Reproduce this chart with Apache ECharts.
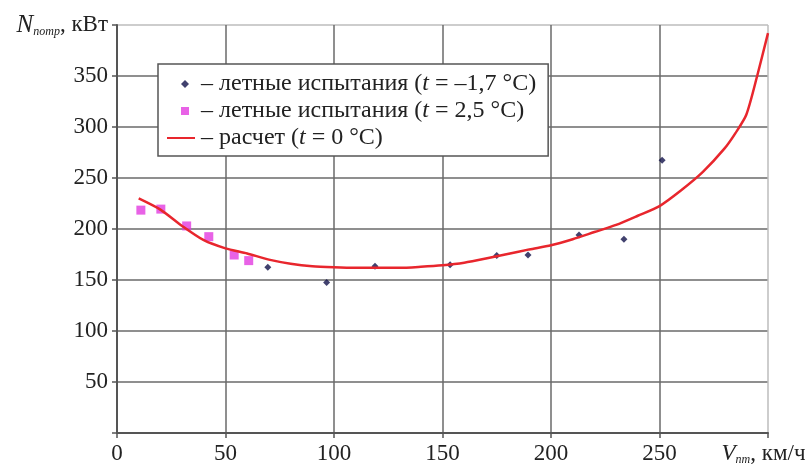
<!DOCTYPE html>
<html>
<head>
<meta charset="utf-8">
<script src="https://cdn.jsdelivr.net/npm/echarts@6/dist/echarts.min.js"></script>
<style>
  html, body { margin: 0; padding: 0; background: #fff; }
  #chart { width: 809px; height: 470px; }
</style>
</head>
<body>
<div id="chart"></div>
<script>
// летные испытания, t = -1.7 °C
const testColdX = [69.5, 96.6, 118.9, 153.5, 175, 189.4, 212.9, 233.6, 251.2]
const testColdY = [162.5, 147.5, 163.5, 165, 174, 174.5, 194, 190, 267.5]
// летные испытания, t = 2.5 °C
const testWarmX = [11, 20.2, 32.1, 42.3, 54, 60.7]
const testWarmY = [218.5, 219.5, 203, 192.5, 174.5, 169]
// расчет, t = 0 °C
const calcX = [10, 20, 30, 40, 50, 60, 70, 80, 90, 100, 110, 120, 130, 140, 150, 160, 170, 180, 190, 200,
  210, 220, 230, 240, 250, 260, 270, 280, 285, 290, 295, 300]
const calcY = [230, 219, 203, 189, 181, 176, 170, 166, 163.5, 162.5, 162, 162, 162, 163, 164.5, 167, 171, 175.5, 180, 184,
  190, 197, 204, 213, 222.5, 238, 256, 279, 294, 312, 350, 392]

const yTicks = [0, 50, 100, 150, 200, 250, 300, 350, 400]
const xTicks = [0, 50, 100, 150, 200, 250, 300]

const legendLabels = {
  t1: '– летные испытания ({i|t} = –1,7 °C)',
  t2: '– летные испытания ({i|t} = 2,5 °C)',
  calc: '– расчет ({i|t} = 0 °C)'
}

const FONT = '"Liberation Serif", "DejaVu Serif", serif'
const zip = (xs, ys) => xs.map((x, i) => [x, ys[i]])

const chart = echarts.init(document.getElementById('chart'))

// тёмные линии сетки, крайняя (верхняя / правая) светлее
const gridColors = (ticks) => ticks.map((_, i) => i === ticks.length - 1 ? '#bdbdbd' : '#6a6a6a')

// значки легенды: пустые M-точки задают рамку 30x10, чтобы маркер не растягивался
const ICON_DIAMOND = 'path://M0,0 M30,10 M19,1 L23,5 L19,9 L15,5 Z'
const ICON_SQUARE = 'path://M0,0 M30,10 M15,1 L23,1 L23,9 L15,9 Z'
const ICON_LINE = 'path://M0,0 M30,10 M1,4 L29,4 L29,6 L1,6 Z'

chart.setOption({
  backgroundColor: '#fff',
  animation: false,
  grid: { left: 117, right: 41, top: 25, bottom: 37, containLabel: false, outerBoundsMode: 'none' },
  legend: {
    left: 158,
    top: 64,
    orient: 'vertical',
    data: [
      { name: 't1', icon: ICON_DIAMOND },
      { name: 't2', icon: ICON_SQUARE },
      { name: 'calc', icon: ICON_LINE }
    ],
    padding: [8, 12, 6, 8],
    itemGap: 3,
    itemWidth: 30,
    itemHeight: 10,
    itemTextGap: 4,
    backgroundColor: '#fff',
    borderColor: '#555',
    borderWidth: 1.5,
    formatter: (name) => legendLabels[name],
    textStyle: {
      fontFamily: FONT,
      fontSize: 24,
      color: '#222',
      rich: { i: { fontFamily: FONT, fontSize: 24, fontStyle: 'italic', color: '#222' } }
    }
  },
  xAxis: {
    type: 'value',
    min: xTicks[0],
    max: xTicks[xTicks.length - 1],
    interval: 50,
    axisLine: { lineStyle: { color: '#555', width: 2 } },
    axisTick: { show: true, length: 5, lineStyle: { color: '#555', width: 1.5 } },
    axisLabel: {
      margin: 9,
      fontFamily: FONT,
      fontSize: 23,
      color: '#222',
      formatter: (v) => v === 300 ? '{n|V}{s|пт}{u|, км/ч}' : String(v),
      rich: {
        n: { fontFamily: FONT, fontSize: 23, fontStyle: 'italic', color: '#222' },
        s: { fontFamily: FONT, fontSize: 12, fontStyle: 'italic', color: '#222', verticalAlign: 'bottom', padding: [12, 0, 0, 0] },
        u: { fontFamily: FONT, fontSize: 23, color: '#222', padding: [0, 9, 0, 0] }
      }
    },
    splitLine: { show: true, lineStyle: { color: gridColors(xTicks), width: 1.5 } }
  },
  yAxis: {
    type: 'value',
    min: yTicks[0],
    max: yTicks[yTicks.length - 1],
    interval: 50,
    axisLine: { show: true, lineStyle: { color: '#555', width: 2 } },
    axisTick: { show: true, length: 5, lineStyle: { color: '#555', width: 1.5 } },
    axisLabel: {
      margin: 9,
      fontFamily: FONT,
      fontSize: 23,
      color: '#222',
      formatter: (v) => v === 0 ? '' : v === 400 ? '{n|N}{s|потр}, кВт' : String(v),
      rich: {
        n: { fontFamily: FONT, fontSize: 25, fontStyle: 'italic', color: '#222' },
        s: { fontFamily: FONT, fontSize: 12, fontStyle: 'italic', color: '#222', verticalAlign: 'bottom', padding: [12, 0, 0, 0] }
      }
    },
    splitLine: { show: true, lineStyle: { color: gridColors(yTicks), width: 1.5 } }
  },
  series: [
    {
      name: 't1',
      type: 'scatter',
      symbol: 'diamond',
      symbolSize: 7,
      itemStyle: { color: '#12124a' },
      data: zip(testColdX, testColdY),
      z: 3
    },
    {
      name: 't2',
      type: 'scatter',
      symbol: 'rect',
      symbolSize: 9,
      itemStyle: { color: '#e23be0' },
      data: zip(testWarmX, testWarmY),
      z: 3
    },
    {
      name: 'calc',
      type: 'line',
      showSymbol: false,
      symbol: 'none',
      smooth: 0.25,
      lineStyle: { color: '#e8262d', width: 2.5 },
      itemStyle: { color: '#e8262d' },
      data: zip(calcX, calcY),
      z: 4
    }
  ]
})
</script>
</body>
</html>
